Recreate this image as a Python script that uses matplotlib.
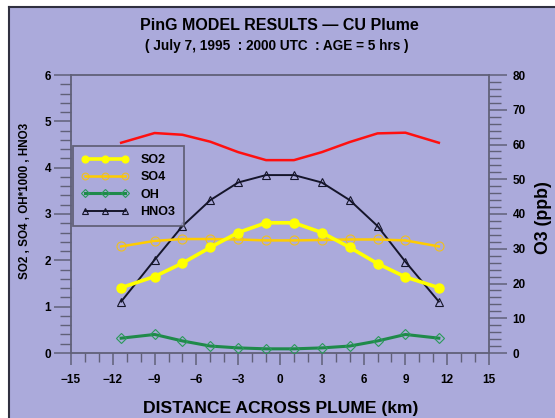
import matplotlib
matplotlib.use("Agg")
import matplotlib.pyplot as plt
from matplotlib.patches import Rectangle
from matplotlib.lines import Line2D
from matplotlib.ticker import MultipleLocator

# ---- data ----
distance = [-11.4, -9, -7, -5, -3, -1, 1, 3, 5, 7, 9, 11.4]
so2 = [1.41, 1.65, 1.94, 2.28, 2.60, 2.81, 2.81, 2.60, 2.28, 1.93, 1.64, 1.41]
so4 = [2.30, 2.42, 2.46, 2.46, 2.45, 2.43, 2.43, 2.44, 2.45, 2.45, 2.43, 2.30]
oh = [0.32, 0.40, 0.26, 0.15, 0.11, 0.09, 0.09, 0.11, 0.15, 0.26, 0.40, 0.32]
hno3 = [1.11, 2.01, 2.74, 3.30, 3.68, 3.84, 3.84, 3.68, 3.30, 2.74, 1.97, 1.11]
o3 = [60.5, 63.3, 62.8, 60.8, 57.8, 55.5, 55.5, 57.8, 60.7, 63.2, 63.4, 60.5]

title = "PinG MODEL RESULTS \u2014 CU Plume"
subtitle = "( July 7, 1995  : 2000 UTC  : AGE = 5 hrs )"
xlabel = "DISTANCE ACROSS PLUME (km)"
ylabel_left = "SO2 , SO4 , OH*1000 , HNO3"
ylabel_right = "O3 (ppb)"

BG = "#abaadb"
AX = "#606078"
W, H = 555, 418

plt.rcParams["font.family"] = ["Liberation Sans", "DejaVu Sans"]
plt.rcParams["font.weight"] = "bold"

fig = plt.figure(figsize=(W / 100, H / 100), dpi=100, facecolor="white")
fig.patches.append(Rectangle((9 / W, 0), 1 - 9 / W, 1 - 7 / H, transform=fig.transFigure,
                             facecolor=BG, edgecolor="none", zorder=-5))
fig.lines.append(Line2D([9 / W, 1], [1 - 7 / H, 1 - 7 / H], transform=fig.transFigure,
                        color="#303040", lw=1.5, zorder=-4))
fig.lines.append(Line2D([9 / W, 9 / W], [0, 1 - 7 / H], transform=fig.transFigure,
                        color="#303040", lw=1.5, zorder=-4))

L, R, T, B = 71, 489, 75, 353
ax = fig.add_axes([L / W, 1 - B / H, (R - L) / W, (B - T) / H])
ax.set_facecolor("none")
ax2 = ax.twinx()
ax2.set_facecolor("none")

ax.plot(distance, hno3, color="#15152a", lw=1.4, marker="^", ms=6, mfc="none",
        mec="#15152a", mew=0.8, label="HNO3", zorder=3)
ax.plot(distance, so4, color="#ffcc00", lw=1.8, marker="o", ms=6.5, mfc="none",
        mec="#f0c020", mew=0.8, label="SO4", zorder=3)
ax.plot(distance, so2, color="#ffff00", lw=2.6, marker="o", ms=6.5, mfc="#ffff00",
        mec="#ffff00", label="SO2", zorder=4)
ax.plot(distance, oh, color="#1f8a4a", lw=2.2, marker="D", ms=5, mfc="none",
        mec="#2a9a5a", mew=0.8, label="OH", zorder=3)
ax2.plot(distance, o3, color="#ff1010", lw=1.8, zorder=3)

ax.set_xlim(-15, 15)
ax.set_ylim(0, 6)
ax2.set_ylim(0, 80)

ax.xaxis.set_major_locator(MultipleLocator(3))
ax.xaxis.set_minor_locator(MultipleLocator(1))
ax.yaxis.set_major_locator(MultipleLocator(1))
ax.yaxis.set_minor_locator(MultipleLocator(0.2))
ax2.yaxis.set_major_locator(MultipleLocator(10))
ax2.yaxis.set_minor_locator(MultipleLocator(2))

for a in (ax, ax2):
    for s in a.spines.values():
        s.set_color(AX)
        s.set_linewidth(1.3)
ax.spines["right"].set_visible(False)
ax2.spines["left"].set_visible(False)
ax2.spines["top"].set_visible(False)
ax2.spines["bottom"].set_visible(False)

ax.tick_params(axis="x", which="major", direction="out", length=8.6, width=1.1,
               color=AX, labelsize=8.5, pad=6.5)
ax.tick_params(axis="x", which="minor", direction="out", length=6.5, width=1.0, color=AX)
ax.tick_params(axis="y", which="major", direction="out", length=12.2, width=1.1,
               color=AX, labelsize=8.5, pad=2)
ax.tick_params(axis="y", which="minor", direction="out", length=7.9, width=1.0, color=AX)
ax2.tick_params(axis="y", which="major", direction="out", length=13, width=1.1,
                color=AX, labelsize=8.5, pad=4)
ax2.tick_params(axis="y", which="minor", direction="out", length=8.6, width=1.0, color=AX)

leg = ax.legend(handles=[ax.lines[2], ax.lines[1], ax.lines[3], ax.lines[0]],
                loc="upper left", bbox_to_anchor=((73 - L) / (R - L), (B - 146) / (B - T)),
                borderaxespad=0, numpoints=3, handlelength=3.8, handletextpad=0.95,
                labelspacing=0.42, borderpad=0.65, markerscale=0.75,
                prop={"size": 9, "weight": "bold"},
                fancybox=False, frameon=True)
leg.get_frame().set_edgecolor("#505060")
leg.get_frame().set_linewidth(1.3)
leg.get_frame().set_facecolor(BG)
leg.set_zorder(5)

fig.text(279 / W, 1 - 25 / H, title, ha="center", va="center", fontsize=11.5, weight="bold")
fig.text(277 / W, 1 - 46 / H, subtitle, ha="center", va="center", fontsize=9.8, weight="bold")
fig.text(281 / W, 1 - 408 / H, xlabel, ha="center", va="center", fontsize=12.6, weight="bold")
fig.text(25 / W, 1 - 201 / H, ylabel_left, ha="center", va="center", rotation=90,
         fontsize=8.4, weight="bold")
fig.text(544 / W, 1 - 218 / H, ylabel_right, ha="center", va="center", rotation=90,
         fontsize=12.8, weight="bold")

fig.savefig("out.png", dpi=100, facecolor="white")
